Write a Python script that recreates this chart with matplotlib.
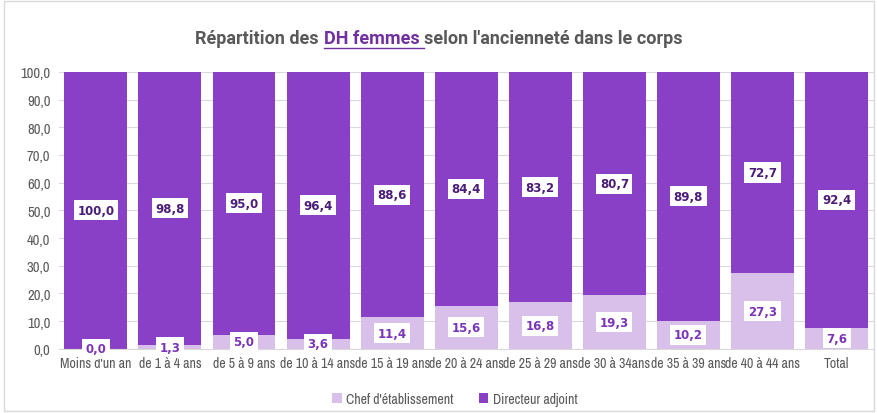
import numpy as np
import matplotlib
matplotlib.use('Agg')
import matplotlib.pyplot as plt
from matplotlib import font_manager as fm
from matplotlib.patches import Rectangle

categories = ["Moins d'un an", "de 1 à 4 ans", "de 5 à 9 ans", "de 10 à 14 ans",
              "de 15 à 19 ans", "de 20 à 24 ans", "de 25 à 29 ans", "de 30 à 34ans",
              "de 35 à 39 ans", "de 40 à 44 ans", "Total"]
chef = [0.0, 1.3, 5.0, 3.6, 11.4, 15.6, 16.8, 19.3, 10.2, 27.3, 7.6]
directeur = [100.0, 98.8, 95.0, 96.4, 88.6, 84.4, 83.2, 80.7, 89.8, 72.7, 92.4]

c_chef = '#d8c0ea'
c_dir = '#8a40c6'

# look for a narrow face for the tick labels
names = sorted({f.name for f in fm.fontManager.ttflist})
narrow_fam = None
for n in names:
    if 'Narrow' in n or 'Condensed' in n:
        narrow_fam = n
        break
print(narrow_fam)
if narrow_fam:
    xfont = dict(family=narrow_fam, size=10)
    yfont = dict(family=narrow_fam, size=10.5)
else:
    xfont = dict(family='Roboto', size=8.3)
    yfont = dict(family='Roboto', size=9)

def fr(v):
    return f"{v:.1f}".replace('.', ',')

fig = plt.figure(figsize=(8.78, 4.14), dpi=100)
fig.patches.append(Rectangle((0.004, 0.004), 0.992, 0.992, transform=fig.transFigure,
                             fill=False, edgecolor='#d9d9d9', linewidth=1))
ax = fig.add_axes([0.067, 0.155, 0.928, 0.669])

x = np.arange(len(categories))
ax.bar(x, chef, width=0.85, color=c_chef, label="Chef d'établissement", zorder=2)
ax.bar(x, directeur, width=0.85, bottom=chef, color=c_dir, label="Directeur adjoint", zorder=2)

box = dict(boxstyle='square,pad=0.3', facecolor='white', edgecolor='none')
for i in range(len(categories)):
    ax.text(x[i], chef[i] / 2, fr(chef[i]), ha='center', va='center', fontsize=8.5,
            fontweight='bold', color='#7b35b8', bbox=box, zorder=3)
    ax.text(x[i], chef[i] + directeur[i] / 2, fr(directeur[i]), ha='center', va='center',
            fontsize=8.5, fontweight='bold', color='#4b1c78', bbox=box, zorder=3)

ax.set_xlim(-0.5, len(categories) - 0.5)
ax.set_ylim(0, 100)
ax.set_yticks(np.arange(0, 101, 10))
ax.set_yticklabels([fr(v) for v in np.arange(0, 101, 10)], **yfont)
ax.set_xticks(x)
ax.set_xticklabels(categories, **xfont)
ax.tick_params(axis='both', length=0, colors='#595959')
ax.tick_params(axis='x', pad=5)
ax.tick_params(axis='y', pad=6)
ax.grid(axis='y', color='#d9d9d9', linewidth=0.8, zorder=0)
for s in ['top', 'right', 'left']:
    ax.spines[s].set_visible(False)
ax.spines['bottom'].set_color('#d9d9d9')

fig.legend(*ax.get_legend_handles_labels(), loc='center', bbox_to_anchor=(0.518, 0.035),
           ncol=2, frameon=False, prop=xfont, handlelength=0.7, handleheight=0.7,
           columnspacing=1.8, handletextpad=0.3, labelcolor='#595959')

# title in three pieces (middle part coloured and underlined)
ty = 0.905
t1 = fig.text(0.5, ty, "Répartition des ", fontsize=13, fontweight='bold', color='#595959',
              ha='left', va='center', fontfamily='Roboto')
t2 = fig.text(0.5, ty, "DH femmes ", fontsize=13, fontweight='bold', color='#7030a0',
              ha='left', va='center', fontfamily='Roboto')
t3 = fig.text(0.5, ty, "selon l'ancienneté dans le corps", fontsize=13, fontweight='bold',
              color='#595959', ha='left', va='center', fontfamily='Roboto')
fig.canvas.draw()
r = fig.canvas.get_renderer()
w1 = t1.get_window_extent(r).width / fig.bbox.width
w2 = t2.get_window_extent(r).width / fig.bbox.width
w3 = t3.get_window_extent(r).width / fig.bbox.width
start = 0.5 - (w1 + w2 + w3) / 2
t1.set_x(start)
t2.set_x(start + w1)
t3.set_x(start + w1 + w2)
bb = t2.get_window_extent(r)
uy = (bb.y0 - 1) / fig.bbox.height
fig.add_artist(plt.Line2D([start + w1, start + w1 + w2], [uy, uy],
                          transform=fig.transFigure, color='#7030a0', linewidth=1))

fig.savefig('out.png', dpi=100)
